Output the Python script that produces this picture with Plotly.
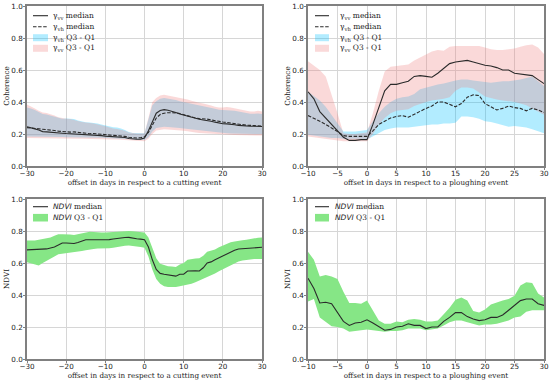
import plotly.graph_objects as go

# ---------------- data ----------------
# Top-left: coherence vs offset to cutting event
days_cut = list(range(-30, 31))
vv_med_cut = [.245,.24,.232,.225,.215,.213,.212,.21,.207,.205,.203,.202,.2,.198,.196,.195,.194,.195,.193,.19,
              .187,.185,.184,.183,.182,.178,.172,.168,.167,.168,.175,.22,.28,.33,.347,.352,.348,.342,.335,.325,
              .318,.31,.303,.297,.292,.288,.285,.28,.274,.268,.264,.263,.262,.258,.254,.251,.249,.248,.248,.248,.247]
vh_med_cut = [.24,.238,.235,.232,.23,.228,.225,.222,.218,.215,.212,.212,.213,.21,.206,.203,.202,.203,.201,.198,
              .195,.193,.192,.19,.188,.185,.18,.176,.175,.177,.182,.21,.255,.3,.322,.33,.333,.333,.332,.328,
              .32,.313,.306,.3,.296,.295,.293,.288,.283,.277,.275,.272,.268,.263,.26,.257,.255,.254,.253,.252,.25]
vv_q3_cut = [.385,.375,.36,.345,.335,.332,.325,.315,.305,.298,.295,.294,.29,.282,.275,.27,.268,.265,.262,.255,
             .248,.24,.235,.232,.228,.22,.21,.205,.203,.203,.205,.3,.4,.425,.44,.445,.44,.435,.432,.428,
             .422,.415,.408,.4,.395,.39,.385,.378,.37,.365,.365,.368,.365,.36,.355,.35,.345,.34,.34,.345,.34]
vv_q1_cut = [.175,.175,.175,.174,.174,.174,.173,.173,.173,.172,.172,.172,.171,.171,.17,.17,.17,.169,.169,.168,
             .167,.167,.166,.165,.164,.162,.16,.159,.158,.157,.155,.17,.2,.222,.228,.23,.228,.227,.225,.222,
             .22,.217,.212,.21,.207,.205,.204,.202,.2,.198,.196,.195,.195,.194,.194,.193,.192,.192,.191,.19,.19]
vh_q3_cut = [.365,.36,.35,.335,.325,.322,.315,.305,.298,.295,.297,.296,.293,.285,.278,.274,.272,.27,.266,.26,
             .253,.245,.242,.24,.235,.225,.212,.207,.205,.204,.205,.29,.38,.405,.42,.425,.422,.418,.412,.405,
             .4,.395,.39,.385,.38,.376,.372,.365,.358,.352,.35,.352,.35,.345,.34,.335,.33,.327,.326,.328,.325]
vh_q1_cut = [.185,.185,.184,.184,.183,.183,.182,.182,.181,.181,.18,.18,.18,.179,.179,.178,.178,.177,.177,.176,
             .175,.174,.173,.172,.17,.168,.166,.165,.164,.163,.162,.18,.215,.237,.242,.245,.244,.243,.24,.238,
             .235,.232,.228,.225,.222,.22,.217,.214,.211,.208,.205,.204,.203,.202,.201,.2,.2,.2,.2,.2,.2]

# Top-right: coherence vs offset to ploughing event
days_pl = list(range(-10, 31))
vv_med_pl = [.464,.42,.34,.30,.26,.22,.18,.16,.16,.165,.165,.26,.37,.47,.51,.51,.52,.53,.56,.565,
             .56,.555,.58,.61,.64,.65,.655,.66,.65,.64,.63,.625,.615,.60,.60,.58,.575,.57,.565,.54,.515]
vh_med_pl = [.315,.30,.28,.26,.24,.215,.19,.185,.185,.185,.185,.22,.26,.28,.30,.31,.315,.305,.325,.34,
             .36,.375,.40,.40,.385,.37,.39,.43,.445,.44,.39,.37,.35,.36,.375,.365,.36,.345,.36,.35,.335]
vv_q3_pl = [.655,.63,.60,.56,.45,.33,.205,.20,.20,.205,.21,.33,.47,.59,.62,.625,.63,.635,.66,.68,
            .70,.715,.725,.72,.745,.75,.75,.75,.75,.75,.74,.73,.725,.725,.73,.735,.745,.755,.76,.74,.70]
vv_q1_pl = [.185,.18,.175,.17,.165,.16,.155,.155,.155,.155,.155,.20,.26,.30,.33,.345,.35,.355,.375,.39,
            .40,.41,.415,.42,.43,.47,.49,.49,.485,.46,.435,.425,.415,.41,.405,.40,.39,.38,.36,.34,.32]
vh_q3_pl = [.465,.44,.41,.37,.32,.27,.215,.215,.215,.22,.225,.28,.33,.37,.40,.42,.43,.435,.45,.48,
            .49,.50,.51,.515,.525,.535,.54,.54,.535,.53,.525,.52,.525,.53,.53,.535,.54,.55,.56,.53,.50]
vh_q1_pl = [.195,.19,.185,.18,.175,.175,.17,.17,.17,.17,.165,.185,.21,.225,.235,.24,.24,.24,.245,.25,
            .255,.26,.26,.265,.265,.27,.31,.31,.305,.295,.28,.275,.265,.255,.245,.25,.245,.24,.23,.215,.205]

# Bottom-left: NDVI vs offset to cutting event
ndvi_med_cut = [.682,.683,.684,.685,.686,.688,.694,.70,.712,.725,.725,.724,.722,.728,.735,.745,.745,.745,.744,.743,
                .742,.746,.75,.754,.758,.759,.76,.758,.752,.749,.745,.70,.62,.56,.535,.53,.525,.522,.518,.53,
                .53,.55,.552,.551,.55,.57,.60,.607,.62,.632,.645,.658,.67,.68,.688,.69,.688,.692,.695,.697,.698]
ndvi_q3_cut = [.74,.74,.74,.745,.75,.755,.76,.77,.78,.78,.78,.778,.775,.78,.785,.79,.795,.793,.79,.79,
               .79,.792,.795,.798,.80,.80,.80,.798,.795,.792,.79,.76,.70,.63,.595,.585,.58,.578,.575,.59,
               .60,.62,.625,.628,.63,.645,.67,.678,.685,.698,.71,.72,.73,.735,.74,.742,.745,.75,.755,.758,.76]
ndvi_q1_cut = [.605,.598,.59,.585,.60,.612,.625,.64,.655,.658,.66,.662,.665,.67,.675,.68,.685,.688,.69,.69,
               .69,.692,.695,.70,.705,.708,.71,.708,.705,.70,.695,.64,.56,.50,.47,.455,.45,.448,.45,.455,
               .46,.465,.47,.48,.49,.502,.515,.525,.535,.548,.56,.572,.585,.598,.61,.615,.62,.622,.625,.625,.625]

# Bottom-right: NDVI vs offset to ploughing event
ndvi_med_pl = [.505,.44,.35,.355,.345,.29,.235,.21,.225,.23,.245,.225,.20,.18,.185,.20,.205,.22,.21,.21,
               .19,.20,.20,.235,.26,.29,.29,.265,.25,.24,.245,.26,.26,.275,.305,.335,.365,.375,.375,.345,.335]
ndvi_q3_pl = [.67,.62,.515,.525,.515,.50,.42,.35,.35,.345,.365,.30,.24,.22,.22,.235,.23,.245,.25,.245,
              .235,.235,.24,.28,.32,.37,.385,.365,.30,.29,.31,.34,.355,.365,.375,.395,.46,.48,.475,.41,.385]
ndvi_q1_pl = [.36,.375,.26,.23,.205,.20,.19,.17,.175,.18,.185,.18,.175,.17,.175,.175,.18,.19,.19,.19,
              .18,.185,.19,.21,.23,.24,.24,.23,.22,.21,.215,.215,.22,.23,.24,.26,.265,.295,.305,.305,.305]

y_ticks = [0.0, 0.2, 0.4, 0.6, 0.8, 1.0]
xt_cut = [-30, -20, -10, 0, 10, 20, 30]
xt_pl = [-10, -5, 0, 5, 10, 15, 20, 25, 30]

g_vv = "γ<sub>vv</sub>"
g_vh = "γ<sub>vh</sub>"
ndvi_it = "<span style='font-family:DejaVu Sans'><i>NDVI</i></span>"
coh_labels = [g_vv + " median", g_vh + " median", g_vh + " Q3 - Q1", g_vv + " Q3 - Q1"]
ndvi_labels = [ndvi_it + " median", ndvi_it + " Q3 - Q1"]

# ---------------- style ----------------
BLUE = "rgba(0,191,255,0.30)"
PINK = "rgba(240,128,128,0.30)"
GREEN = "rgb(134,230,134)"
LINE = "#2b2b2b"
DASH = "3.5px,1.6px"
SERIF = "DejaVu Serif"
SANS = "DejaVu Sans"
W, H = 550, 380

fig = go.Figure()

def band(x, lo, hi, color, xa, ya):
    fig.add_trace(go.Scatter(x=x, y=lo, mode="lines", line=dict(width=0, color=color),
                             showlegend=False, hoverinfo="skip", xaxis=xa, yaxis=ya))
    fig.add_trace(go.Scatter(x=x, y=hi, mode="lines", line=dict(width=0, color=color),
                             fill="tonexty", fillcolor=color, showlegend=False, xaxis=xa, yaxis=ya))

def line(x, y, xa, ya, dash="solid"):
    fig.add_trace(go.Scatter(x=x, y=y, mode="lines", line=dict(width=1.1, color=LINE, dash=dash),
                             showlegend=False, xaxis=xa, yaxis=ya))

# top-left
band(days_cut, vh_q1_cut, vh_q3_cut, BLUE, "x", "y")
band(days_cut, vv_q1_cut, vv_q3_cut, PINK, "x", "y")
line(days_cut, vv_med_cut, "x", "y")
line(days_cut, vh_med_cut, "x", "y", dash=DASH)
# top-right
band(days_pl, vh_q1_pl, vh_q3_pl, BLUE, "x2", "y2")
band(days_pl, vv_q1_pl, vv_q3_pl, PINK, "x2", "y2")
line(days_pl, vv_med_pl, "x2", "y2")
line(days_pl, vh_med_pl, "x2", "y2", dash=DASH)
# bottom-left
band(days_cut, ndvi_q1_cut, ndvi_q3_cut, GREEN, "x3", "y3")
line(days_cut, ndvi_med_cut, "x3", "y3")
# bottom-right
band(days_pl, ndvi_q1_pl, ndvi_q3_pl, GREEN, "x4", "y4")
line(days_pl, ndvi_med_pl, "x4", "y4")

dx_l = [27 / W, 262 / W]
dx_r = [308 / W, 544 / W]
dy_t = [1 - 166 / H, 1 - 6 / H]
dy_b = [1 - 359 / H, 1 - 199 / H]

def xax(domain, anchor, rng, ticks, title):
    return dict(domain=domain, anchor=anchor, range=rng, tickvals=ticks, showgrid=True,
                gridcolor="#d6d6d6", gridwidth=1, zeroline=False, showline=True, mirror=True,
                linecolor="#808080", linewidth=1.5, ticks="outside", ticklen=2, tickcolor="#808080",
                automargin=False, ticklabelstandoff=-2,
                tickfont=dict(family=SANS, size=7.2, color="#222"),
                title=dict(text=title, font=dict(family=SERIF, size=7.2, color="#222"), standoff=1))

def yax(domain, anchor, title):
    return dict(domain=domain, anchor=anchor, range=[0, 1], tickvals=y_ticks,
                ticktext=[f"{v:.1f}" for v in y_ticks], showgrid=True, gridcolor="#d6d6d6",
                gridwidth=1, zeroline=False, showline=True, mirror=True, linecolor="#808080",
                linewidth=1.5, ticks="outside", ticklen=2, tickcolor="#808080", automargin=False,
                ticklabelstandoff=-1,
                tickfont=dict(family=SANS, size=7.2, color="#222"),
                title=dict(text=title, font=dict(family=SERIF, size=7.2, color="#222"), standoff=1))

# ---------------- custom legends (pixel layout) ----------------
shapes, annos = [], []

def px(xp):
    return xp / W

def py(yp):
    return 1 - yp / H

def legend_block(x0, x1, xt, rows):
    for kind, yc, label in rows:
        if kind in ("solid", "dash"):
            shapes.append(dict(type="line", xref="paper", yref="paper", x0=px(x0), x1=px(x1),
                               y0=py(yc), y1=py(yc),
                               line=dict(color=LINE, width=1.1, dash="solid" if kind == "solid" else DASH)))
        else:
            hh = 3.5 if kind != GREEN else 3.8
            shapes.append(dict(type="rect", xref="paper", yref="paper", x0=px(x0), x1=px(x1),
                               y0=py(yc - hh), y1=py(yc + hh), line=dict(width=0), fillcolor=kind))
        annos.append(dict(text=label, xref="paper", yref="paper", x=px(xt), y=py(yc),
                          xanchor="left", yanchor="middle", showarrow=False, borderpad=0,
                          font=dict(family=SERIF, size=7.5, color="#222")))

legend_block(33, 48, 52, [("solid", 15.7, coh_labels[0]), ("dash", 26.7, coh_labels[1]),
                          (BLUE, 37.7, coh_labels[2]), (PINK, 48.3, coh_labels[3])])
legend_block(315, 329, 339, [("solid", 15.7, coh_labels[0]), ("dash", 26.7, coh_labels[1]),
                             (BLUE, 37.7, coh_labels[2]), (PINK, 48.3, coh_labels[3])])
legend_block(33, 48, 52, [("solid", 206.7, ndvi_labels[0]), (GREEN, 217.7, ndvi_labels[1])])
legend_block(315, 329, 334, [("solid", 206.7, ndvi_labels[0]), (GREEN, 217.7, ndvi_labels[1])])

fig.update_layout(
    width=W, height=H, margin=dict(l=0, r=0, t=0, b=0),
    paper_bgcolor="white", plot_bgcolor="white", showlegend=False,
    xaxis=xax(dx_l, "y", [-30, 30], xt_cut, "offset in days in respect to a cutting event"),
    yaxis=yax(dy_t, "x", "Coherence"),
    xaxis2=xax(dx_r, "y2", [-10, 30], xt_pl, "offset in days in respect to a ploughing event"),
    yaxis2=yax(dy_t, "x2", "Coherence"),
    xaxis3=xax(dx_l, "y3", [-30, 30], xt_cut, "offset in days in respect to a cutting event"),
    yaxis3=yax(dy_b, "x3", "NDVI"),
    xaxis4=xax(dx_r, "y4", [-10, 30], xt_pl, "offset in days in respect to a ploughing event"),
    yaxis4=yax(dy_b, "x4", "NDVI"),
    shapes=shapes, annotations=annos,
)

fig.write_html("out.html", config={"displayModeBar": False},
               post_script="document.body.style.margin='0px';")
